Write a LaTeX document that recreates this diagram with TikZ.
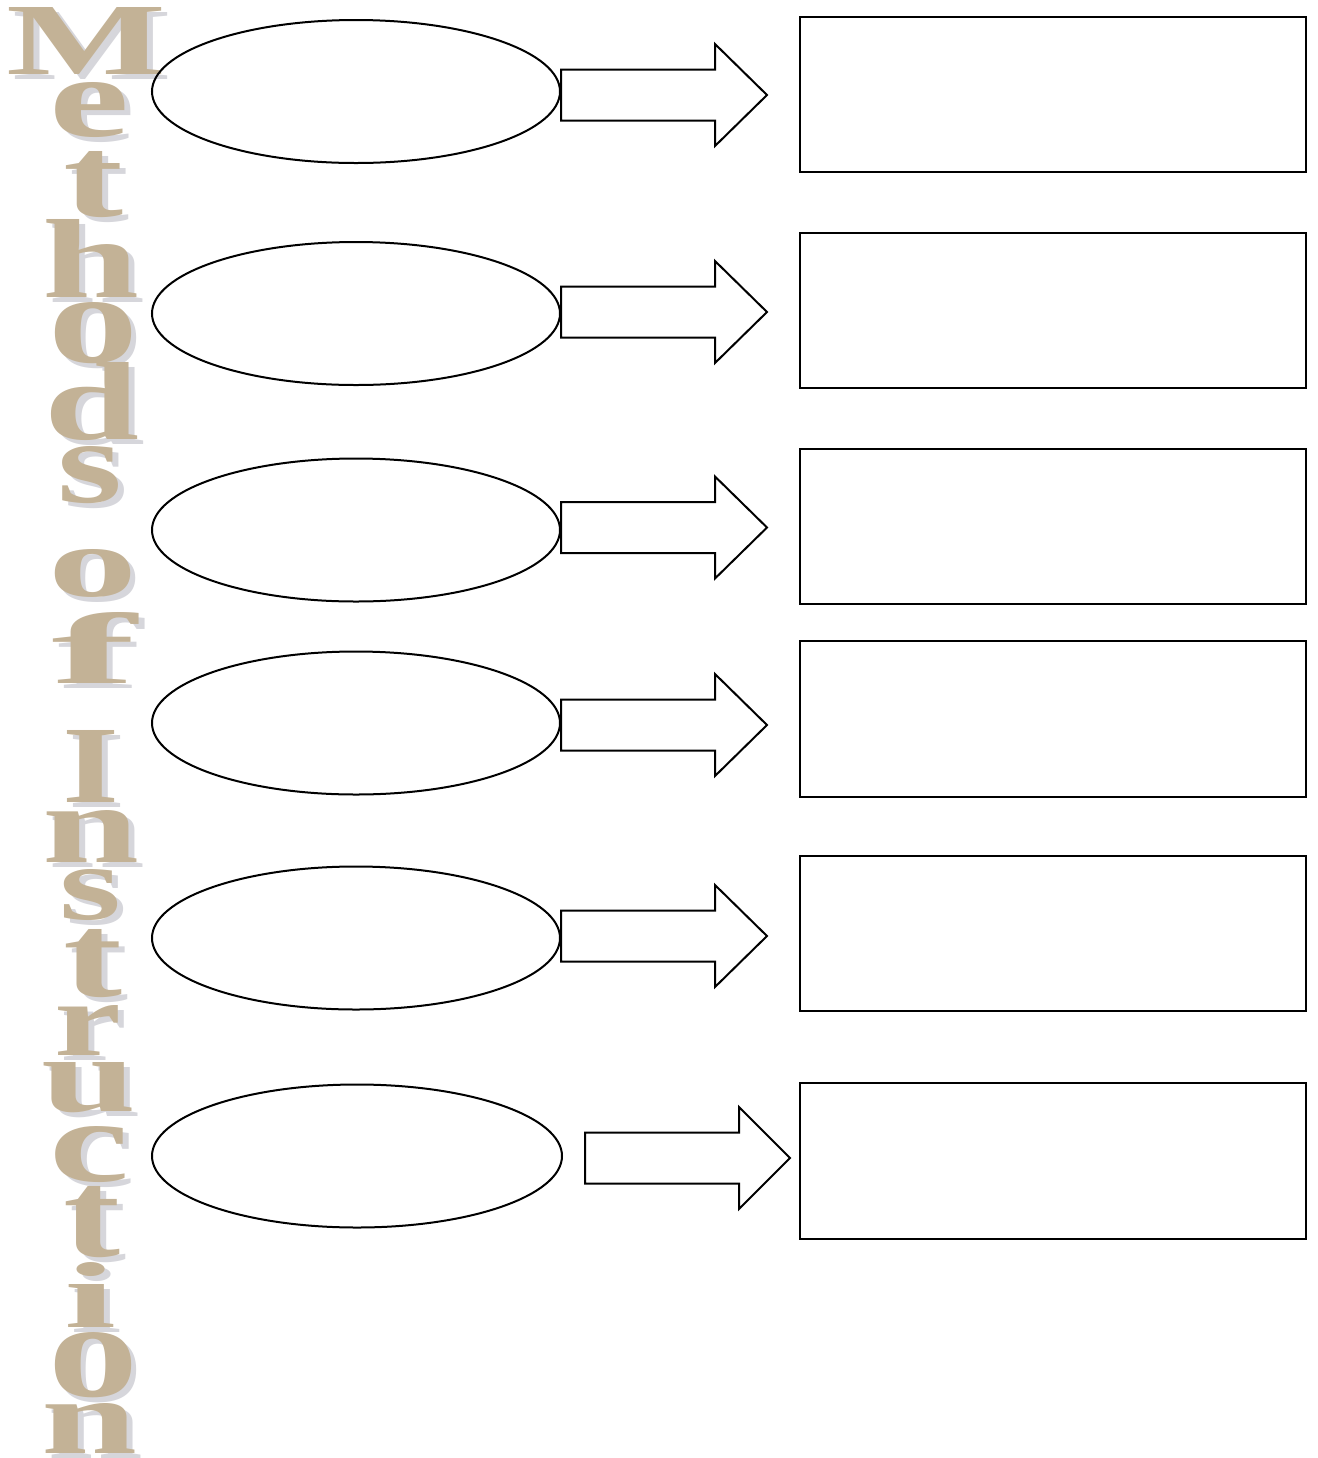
\documentclass[tikz,border=0pt]{standalone}
\usepackage{fontspec}
\usepackage{graphicx}
\usetikzlibrary{shapes.geometric}
\newfontfamily\wafont{Liberation Serif}
\definecolor{wafill}{HTML}{C3B296}
\definecolor{washadow}{HTML}{D6D6DB}
\tikzset{
  oval/.style={draw=black, line width=1pt, ellipse, inner sep=0pt, minimum width=204pt, minimum height=71.5pt},
  answerbox/.style={draw=black, line width=1pt, rectangle, inner sep=0pt, minimum width=253pt, minimum height=77.5pt},
  blockarrow/.style={draw=black, line width=1pt, fill=white, line join=miter},
  waletter/.style={inner sep=0pt, text=wafill},
  washade/.style={inner sep=0pt, text=washadow}
}
\newcommand{\WAletter}[6]{%
  \node[washade] at (#2+6,#3+5) {\resizebox{#4pt}{#5pt}{\wafont\bfseries #6}};
  \node[waletter] (#1) at (#2,#3) {\resizebox{#4pt}{#5pt}{\wafont\bfseries #6}};}
\newcommand{\blockarr}[5]{%
  \draw[blockarrow] (#2,#5-25.5) coordinate (#1) -- (#3,#5-25.5) -- (#3,#5-51) -- (#4,#5) -- (#3,#5+51) -- (#3,#5+25.5) -- (#2,#5+25.5) -- cycle;}
\begin{document}
\begin{tikzpicture}[x=0.5pt,y=-0.5pt]
\useasboundingbox[fill=white] (0,0) rectangle (1318,1458);
% vertical title
\WAletter{l1}{87}{40.5}{80}{33.5}{M}
\WAletter{l2}{90}{110}{40}{27}{e}
\WAletter{l3}{93}{184.5}{30}{32.5}{t}
\WAletter{l4}{91.5}{258}{48.5}{39}{h}
\WAletter{l5}{93}{333}{45}{30}{o}
\WAletter{l6}{92.5}{401.5}{47.5}{38.5}{d}
\WAletter{l7}{90.5}{475}{32.5}{28}{s}
\WAletter{l8}{92.5}{573.5}{44.5}{23.5}{o}
\WAletter{l9}{94.5}{647.5}{42.5}{35.5}{f}
\WAletter{l10}{91.5}{766}{28.5}{36}{I}
\WAletter{l11}{91.5}{836}{48.5}{26}{n}
\WAletter{l12}{91}{895}{31}{25}{s}
\WAletter{l13}{92.5}{963.5}{29.5}{33.5}{t}
\WAletter{l14}{88.5}{1030}{33.5}{25}{r}
\WAletter{l15}{89.5}{1087.5}{47.5}{24.5}{u}
\WAletter{l16}{90}{1154.5}{40}{27.5}{c}
\WAletter{l17}{91.5}{1222}{28.5}{35}{t}
\WAletter{l18}{91}{1294.5}{26}{32.5}{i}
\WAletter{l19}{93}{1365}{45}{32}{o}
\WAletter{l20}{90}{1428}{48}{25}{n}
% ovals
\node[oval] (e1) at (356,91.5) {};
\node[oval] (e2) at (356,313.5) {};
\node[oval] (e3) at (356,530) {};
\node[oval] (e4) at (356,723) {};
\node[oval] (e5) at (356,938) {};
\node[oval, minimum width=205pt] (e6) at (357,1156) {};
% boxes
\node[answerbox] (b1) at (1053,94.5) {};
\node[answerbox] (b2) at (1053,310.5) {};
\node[answerbox] (b3) at (1053,526.5) {};
\node[answerbox, minimum height=78pt] (b4) at (1053,719) {};
\node[answerbox] (b5) at (1053,933.5) {};
\node[answerbox, minimum height=78pt] (b6) at (1053,1161) {};
% block arrows
\blockarr{a1}{561}{715}{767}{95}
\blockarr{a2}{561}{715}{767}{312}
\blockarr{a3}{561}{715}{767}{527.5}
\blockarr{a4}{561}{715}{767}{725}
\blockarr{a5}{561}{715}{767}{936}
\blockarr{a6}{585}{739}{790}{1158}
\end{tikzpicture}
\end{document}
